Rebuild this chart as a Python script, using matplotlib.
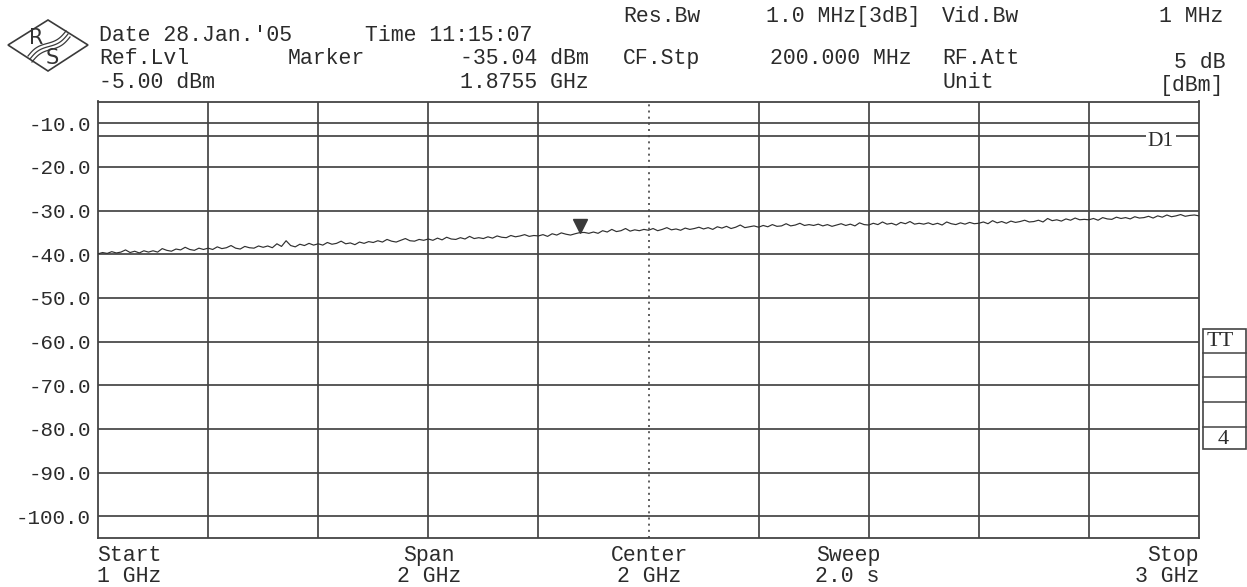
import matplotlib
matplotlib.use("Agg")
import matplotlib.pyplot as plt
import matplotlib.transforms as mtransforms
from matplotlib.patches import Polygon, Rectangle
import numpy as np

# ---------------- data ----------------
f_start, f_stop = 1.0, 3.0          # GHz
ref_level, y_bottom = -5.0, -105.0  # dBm
y_ticks = [-10, -20, -30, -40, -50, -60, -70, -80, -90, -100]
y_tick_labels = ["-10.0", "-20.0", "-30.0", "-40.0", "-50.0",
                 "-60.0", "-70.0", "-80.0", "-90.0", "-100.0"]
x_grid = [1.2, 1.4, 1.6, 1.8, 2.2, 2.4, 2.6, 2.8]
center_freq = 2.0
d1_level = -13.0
marker_freq = 1.8755
marker_level = -35.04

trace_dbm = [
    -39.9, -39.6, -39.8, -39.4, -39.7, -39.5, -39.0, -39.6, -39.3, -39.7, -39.2, -39.5,
    -39.2, -39.5, -38.7, -39.1, -39.3, -38.8, -39.0, -38.4, -38.9, -39.1, -38.6, -38.9,
    -38.6, -38.9, -38.3, -38.7, -38.5, -38.0, -38.6, -38.8, -38.2, -38.5, -38.6, -38.1,
    -38.4, -38.1, -38.5, -37.6, -38.2, -36.9, -38.0, -38.3, -37.7, -38.0, -37.5, -37.9,
    -37.6, -37.9, -37.3, -37.7, -37.5, -37.0, -37.6, -37.4, -37.8, -37.2, -37.5, -37.1,
    -37.3, -36.9, -37.2, -36.6, -37.0, -37.2, -36.8, -36.4, -36.9, -37.0, -36.6, -36.8,
    -36.5, -36.8, -36.3, -36.7, -36.1, -36.5, -36.6, -36.2, -36.5, -35.9, -36.4, -36.2,
    -36.4, -36.0, -36.3, -35.8, -36.1, -36.2, -35.7, -36.0, -35.8, -35.5, -35.9, -35.7,
    -35.8, -35.5, -35.9, -35.3, -35.6, -35.1, -35.4, -35.6, -35.3, -35.04, -35.0, -35.2,
    -34.9, -35.2, -34.6, -34.9, -34.3, -34.8, -34.6, -34.1, -34.7, -34.4, -34.6, -34.3,
    -34.5, -34.1, -34.6, -34.3, -33.9, -34.4, -34.2, -34.5, -34.0, -34.3, -34.1, -33.8,
    -34.2, -33.9, -34.3, -33.7, -34.0, -33.6, -34.1, -33.8, -33.3, -33.9, -33.7, -33.5,
    -33.8, -33.4, -33.7, -33.2, -33.6, -33.5, -33.0, -33.5, -33.3, -32.9, -33.4, -33.2,
    -33.4, -33.1, -33.5, -33.2, -33.6, -33.3, -33.0, -33.4, -33.1, -33.5, -32.8, -33.2,
    -33.3, -32.9, -33.2, -32.6, -33.1, -32.9, -33.3, -32.7, -33.0, -32.5, -33.1, -32.9,
    -33.1, -32.8, -33.2, -32.9, -33.3, -32.6, -33.0, -33.2, -32.8, -33.1, -32.7, -33.0,
    -32.9, -32.6, -33.0, -32.3, -32.8, -32.5, -32.9, -32.4, -32.7, -32.5, -32.2, -32.6,
    -32.5, -32.2, -32.6, -31.8, -32.3, -32.1, -32.4, -31.9, -32.2, -31.7, -32.1, -32.0,
    -32.1, -31.8, -32.2, -31.6, -31.9, -32.0, -31.5, -31.8, -31.6, -31.9, -31.4, -31.7,
    -31.6, -31.3, -31.7, -31.2, -31.5, -31.0, -31.4, -31.2, -30.9, -31.3, -31.1, -31.0,
    -31.2,
]
freqs = np.linspace(f_start, f_stop, len(trace_dbm))

# header texts: (text, x_px, y_px_center, ha)
header_texts = [
    ("Date 28.Jan.'05", 99, 34, "left"),
    ("Time 11:15:07", 449, 34, "center"),
    ("Ref.Lvl", 99, 57, "left"),
    ("Marker", 326, 57, "center"),
    ("-35.04 dBm", 589, 57, "right"),
    ("-5.00 dBm", 99, 81, "left"),
    ("1.8755 GHz", 589, 81, "right"),
    ("Res.Bw", 623, 15, "left"),
    ("1.0 MHz[3dB]", 921, 15, "right"),
    ("Vid.Bw", 942, 15, "left"),
    ("1 MHz", 1223, 15, "right"),
    ("CF.Stp", 623, 57, "left"),
    ("200.000 MHz", 912, 57, "right"),
    ("RF.Att", 942, 57, "left"),
    ("5 dB", 1226, 61, "right"),
    ("Unit", 942, 81, "left"),
    ("[dBm]", 1224, 84, "right"),
]
bottom_texts = [
    ("Start", 97, 554, "left"), ("1 GHz", 97, 575, "left"),
    ("Span", 429, 554, "center"), ("2 GHz", 429, 575, "center"),
    ("Center", 649, 554, "center"), ("2 GHz", 649, 575, "center"),
    ("Sweep", 848, 554, "center"), ("2.0 s", 847, 575, "center"),
    ("Stop", 1199, 554, "right"), ("3 GHz", 1199, 575, "right"),
]

# ---------------- figure ----------------
W, H, DPI = 1247, 587, 100
fig = plt.figure(figsize=(W / DPI, H / DPI), dpi=DPI, facecolor="white")

TXT = "#2b2b2b"
LN = "#444444"
MONO = "Liberation Mono"
FS = 15.5

left, right, top, bottom = 98, 1199, 101.5, 538
ax = fig.add_axes([left / W, 1 - bottom / H, (right - left) / W, (bottom - top) / H])
ax.set_xlim(f_start, f_stop)
ax.set_ylim(y_bottom, ref_level)
ax.set_facecolor("white")
for s in ax.spines.values():
    s.set_color(LN)
    s.set_linewidth(1.3)
ax.set_xticks([])
ax.set_yticks(y_ticks)
ax.set_yticklabels(y_tick_labels, fontfamily=MONO, fontsize=15, color=TXT)
ax.tick_params(axis="y", length=0, pad=5)

for yv in y_ticks:
    ax.axhline(yv, color=LN, lw=1.25, zorder=1)
for xv in x_grid:
    ax.axvline(xv, color=LN, lw=1.25, zorder=1)
ax.axvline(center_freq, color=LN, lw=1.2, ls=(0, (1.2, 2.5)), zorder=1)
ax.axhline(d1_level, color=LN, lw=1.25, zorder=1)

ax.plot(freqs, trace_dbm, color="#303030", lw=0.85, zorder=3)
mk_tr = mtransforms.offset_copy(ax.transData, fig=fig, x=0, y=6.5, units="dots")
ax.plot([marker_freq], [marker_level], marker="v", ms=10, color="#3a3a3a",
        transform=mk_tr, zorder=4, linestyle="none")

# overlay in pixel coordinates
ov = fig.add_axes([0, 0, 1, 1], facecolor="none")
ov.set_xlim(0, W)
ov.set_ylim(H, 0)
ov.axis("off")

BASE = 7  # baseline offset from cap centre
for t, x, y, ha in header_texts + bottom_texts:
    ov.text(x, y + BASE, t, ha=ha, va="baseline", fontfamily=MONO,
            fontsize=FS, color=TXT)

# D1 label on the display line
ov.text(1161, 141, "D1", ha="center", va="center", fontfamily="Liberation Serif",
        fontsize=15.5, color=TXT,
        bbox=dict(boxstyle="square,pad=0.1", fc="white", ec="none"))

# TT side box
ov.add_patch(Rectangle((1203, 329), 43, 120, fill=False, ec=LN, lw=1.2))
for yy in [353, 377, 402, 427]:
    ov.plot([1203, 1246], [yy, yy], color=LN, lw=1.1)
ov.text(1220, 342, "TT", ha="center", va="center", fontfamily="Liberation Serif",
        fontsize=16, color=TXT)
ov.text(1223, 439, "4", ha="center", va="center", fontfamily="Liberation Serif",
        fontsize=16, color=TXT)

# R&S logo
ov.add_patch(Polygon([(8, 45), (48, 20), (88, 45), (48, 71)], closed=True,
                     fill=False, ec="#3a3a3a", lw=1.2))
ov.text(36, 38, "R", ha="center", va="center", fontfamily="DejaVu Sans",
        fontsize=15, color="#333333")
ov.text(52, 58, "S", ha="center", va="center", fontfamily="DejaVu Sans",
        fontsize=15, color="#333333")
tt = np.linspace(0, 1, 60)
for k in range(3):
    x0, y0, x1, y1 = 66 + k * 2, 31 + k * 3, 28 + k * 2, 56 + k * 3
    xs = x0 + (x1 - x0) * tt + 1.2 * np.sin(tt * 2 * np.pi)
    ys = y0 + (y1 - y0) * tt + 2.0 * np.sin(tt * 2 * np.pi)
    ov.plot(xs, ys, color="#3a3a3a", lw=0.9)

fig.savefig("out.png", dpi=DPI, facecolor="white")
